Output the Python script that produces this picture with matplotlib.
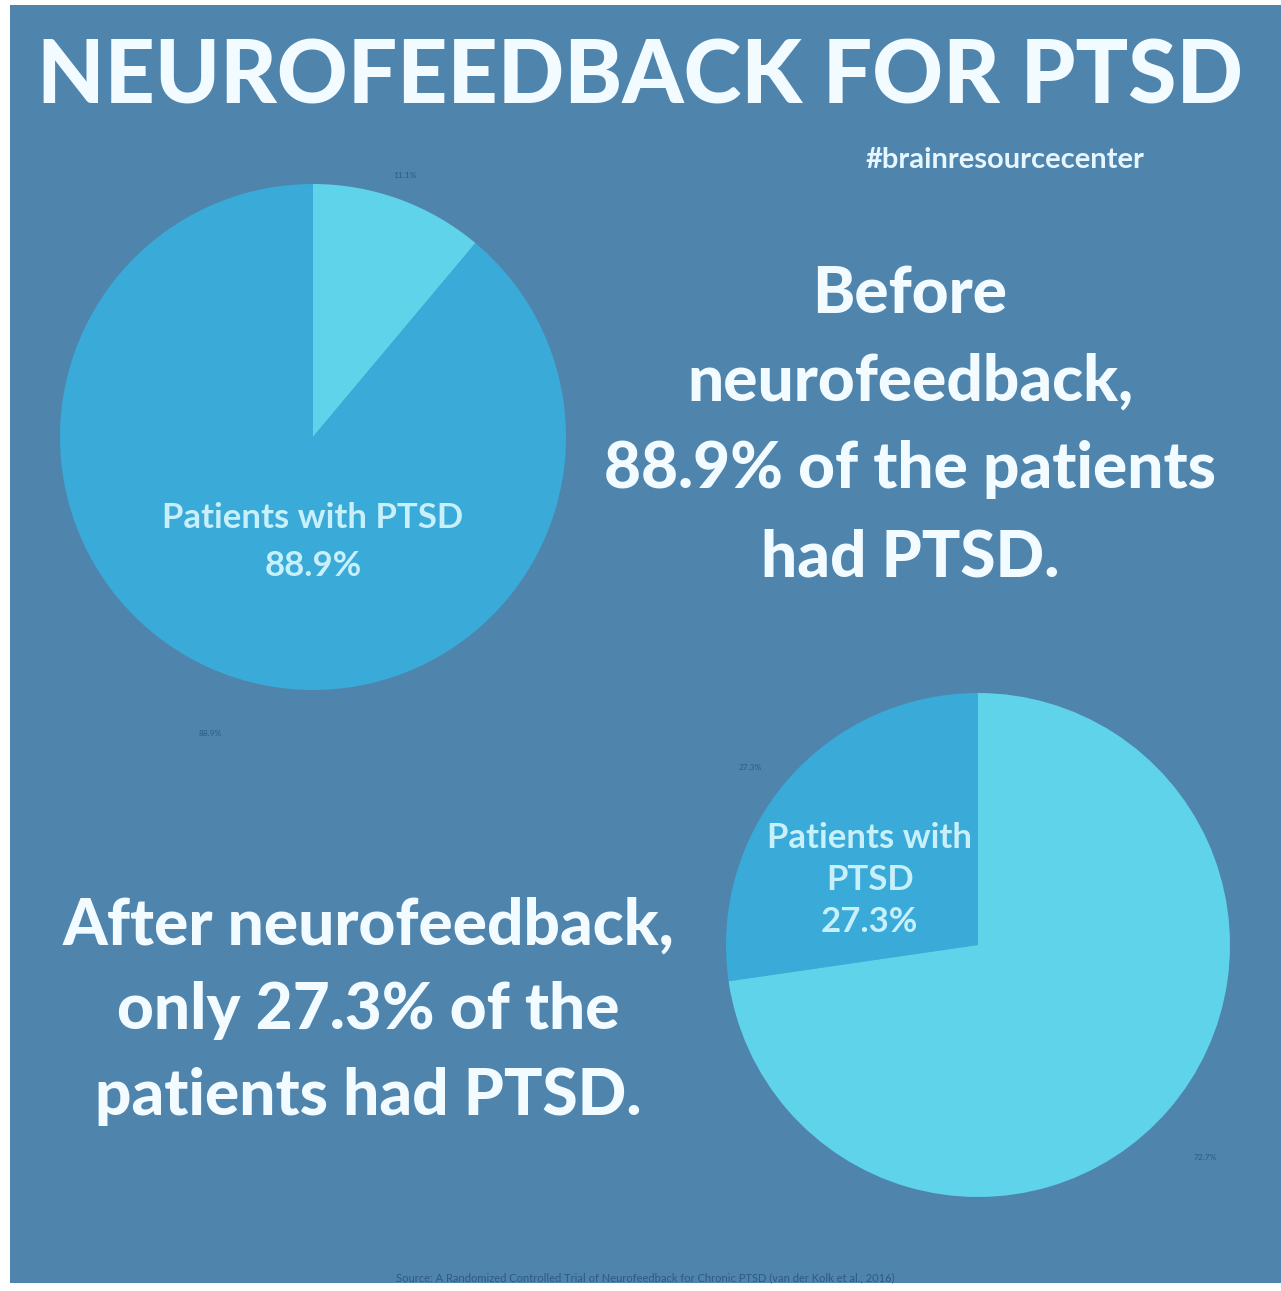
import matplotlib.pyplot as plt
from matplotlib.patches import Rectangle

# data
before_labels = ['No PTSD', 'Patients with PTSD']
before_values = [11.1, 88.9]
after_labels = ['Patients with PTSD', 'No PTSD']
after_values = [27.3, 72.7]

bg = '#4f84ad'
dark = '#3aaad9'
light = '#5ed3ea'
txt = '#f2fbff'
small = '#2f5a85'

plt.rcParams['font.family'] = ['Lato', 'DejaVu Sans']

fig = plt.figure(figsize=(12.81, 12.91), dpi=100, facecolor='white')
W, H = 1281, 1291

def fx(x):
    return x / W

def fy(y):
    return 1 - y / H

fig.patches.append(Rectangle((fx(10), fy(1283)), fx(1281) - fx(10), fy(5) - fy(1283),
                             transform=fig.transFigure, facecolor=bg, edgecolor='none', zorder=-10))

fig.text(fx(640), fy(78), 'NEUROFEEDBACK FOR PTSD', ha='center', va='center',
         fontsize=63, fontweight='black', color=txt)
fig.text(fx(1005), fy(160), '#brainresourcecenter', ha='center', va='center',
         fontsize=21, fontweight='bold', color='#e6f6ff')

# pie 1 (before)
ax1 = fig.add_axes([fx(60), fy(690), fx(506), 506 / H])
ax1.pie(before_values, colors=[light, dark], startangle=90, counterclock=False,
        wedgeprops=dict(linewidth=0))
ax1.set_xlim(-1, 1)
ax1.set_ylim(-1, 1)
ax1.axis('off')
ax1.text(0, -0.415, 'Patients with PTSD\n' + f'{before_values[1]}%', ha='center', va='center',
         fontsize=25, fontweight='bold', color='#c8f0fb', linespacing=1.6)
fig.text(fx(405), fy(176), f'{before_values[0]}%', ha='center', va='center', fontsize=6, color=small)
fig.text(fx(210), fy(733), f'{before_values[1]}%', ha='center', va='center', fontsize=6, color=small)

# pie 2 (after)
ax2 = fig.add_axes([fx(726), fy(1197), fx(504), 504 / H])
ax2.pie(after_values, colors=[dark, light], startangle=90, counterclock=True,
        wedgeprops=dict(linewidth=0))
ax2.set_xlim(-1, 1)
ax2.set_ylim(-1, 1)
ax2.axis('off')
ax2.text(-0.43, 0.258, 'Patients with\nPTSD\n' + f'{after_values[0]}%', ha='center', va='center',
         fontsize=25, fontweight='bold', color='#c8f0fb', linespacing=1.38)
fig.text(fx(750), fy(768), f'{after_values[0]}%', ha='center', va='center', fontsize=6, color=small)
fig.text(fx(1205), fy(1157), f'{after_values[1]}%', ha='center', va='center', fontsize=6, color=small)

# statements
fig.text(fx(910), fy(426), 'Before\nneurofeedback,\n88.9% of the patients\nhad PTSD.',
         ha='center', va='center', fontsize=46, fontweight='black', color=txt, linespacing=1.6)
fig.text(fx(368), fy(1011), 'After neurofeedback,\nonly 27.3% of the\npatients had PTSD.',
         ha='center', va='center', fontsize=46, fontweight='black', color=txt, linespacing=1.55)

fig.text(fx(645), fy(1278), 'Source: A Randomized Controlled Trial of Neurofeedback for Chronic PTSD (van der Kolk et al., 2016)',
         ha='center', va='center', fontsize=8, color=small)

fig.savefig('out.png', dpi=100, facecolor='white')
